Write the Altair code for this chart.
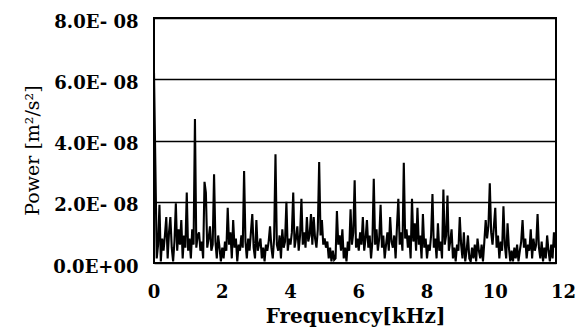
import altair as alt
import pandas as pd

# Power spectrum values in units of 1E-08 m^2/s^2, sampled every 0.04 kHz (rows = 1 kHz each)
STEP_KHZ = 0.04
p_0k = [6.2, 3.2, 0.15, 0.6, 1.9, 0.05, 0.8, 0.4, 0.9, 1.5, 0.15, 1.0, 1.5, 0.5, 0.05, 0.7, 1.95, 0.4, 1.1, 0.6, 1.4, 0.15, 0.9, 0.5, 2.3]
p_1k = [0.4, 0.8, 0.15, 1.1, 0.6, 4.7, 0.5, 0.9, 1.0, 0.4, 0.7, 0.15, 2.65, 2.3, 0.5, 0.8, 1.2, 0.4, 0.6, 2.9, 0.7, 0.15, 0.9, 0.5, 0.05]
p_2k = [0.5, 0.15, 0.7, 0.4, 1.8, 0.6, 1.0, 0.15, 1.4, 0.5, 0.8, 0.05, 0.6, 0.4, 0.9, 0.5, 3.0, 0.7, 0.15, 0.8, 0.4, 1.0, 1.6, 0.5, 0.15]
p_3k = [1.4, 0.4, 0.6, 0.8, 0.15, 0.5, 0.05, 0.6, 0.4, 0.7, 1.2, 0.5, 0.15, 0.8, 3.55, 0.6, 0.4, 0.9, 0.15, 1.1, 0.5, 0.7, 2.0, 0.4, 0.8]
p_4k = [0.6, 1.0, 2.3, 0.5, 0.8, 1.2, 0.4, 0.9, 2.1, 0.6, 1.0, 0.5, 1.5, 0.7, 0.9, 1.6, 0.6, 1.5, 0.8, 0.5, 1.1, 3.3, 0.9, 1.4, 0.6]
p_5k = [0.8, 0.5, 0.7, 0.15, 0.5, 0.05, 0.4, 0.1, 0.15, 1.7, 0.6, 0.9, 0.4, 1.1, 0.15, 0.5, 0.05, 0.7, 0.4, 1.75, 0.6, 1.0, 2.7, 0.5, 0.8]
p_6k = [0.4, 1.0, 0.6, 1.5, 0.4, 0.8, 1.4, 0.5, 0.9, 0.15, 0.7, 2.75, 0.6, 1.1, 0.4, 0.8, 1.9, 0.5, 0.9, 0.15, 0.6, 1.0, 0.4, 1.5, 0.7]
p_7k = [0.5, 0.9, 0.15, 1.2, 2.1, 0.6, 1.0, 0.4, 3.27, 0.8, 1.1, 0.5, 0.9, 0.15, 2.1, 0.7, 1.3, 0.4, 1.8, 0.6, 0.9, 0.15, 1.6, 0.5, 0.8]
p_8k = [0.15, 0.6, 0.4, 0.9, 2.25, 0.5, 0.8, 0.15, 1.3, 0.4, 0.7, 0.15, 2.4, 0.6, 0.9, 2.2, 0.4, 0.7, 1.1, 0.15, 0.5, 0.05, 0.6, 0.4, 1.5]
p_9k = [0.6, 0.15, 1.0, 0.05, 0.4, 0.9, 0.15, 0.05, 0.5, 0.15, 0.6, 0.05, 0.8, 0.4, 0.15, 0.6, 0.05, 0.7, 1.4, 0.8, 1.2, 2.6, 1.0, 0.6, 1.2]
p_10k = [1.8, 0.5, 0.9, 0.15, 0.7, 0.4, 1.85, 0.6, 0.15, 1.3, 0.5, 0.05, 0.4, 0.05, 0.5, 0.15, 0.6, 0.05, 0.4, 0.7, 1.4, 0.5, 0.8, 0.15, 0.6]
p_11k = [0.4, 1.1, 0.15, 0.8, 0.4, 0.6, 1.6, 0.5, 0.15, 0.7, 0.05, 0.5, 0.15, 0.9, 0.4, 0.05, 0.6, 0.15, 1.0, 0.5]

x_ticks = [0, 2, 4, 6, 8, 10, 12]
y_ticks = [0.0, 2e-8, 4e-8, 6e-8, 8e-8]

power_e8 = p_0k + p_1k + p_2k + p_3k + p_4k + p_5k + p_6k + p_7k + p_8k + p_9k + p_10k + p_11k
freq = [round(i * STEP_KHZ, 2) for i in range(len(power_e8))]
df = pd.DataFrame({"freq": freq, "power": [v * 1e-8 for v in power_e8]})
tick_df = pd.DataFrame({"tick": x_ticks, "label": [str(t) for t in x_ticks]})

SERIF = "DejaVu Serif"
W, H = 402, 245

x_scale = alt.Scale(domain=[0, 11.78], nice=False, zero=False)

line = alt.Chart(df).mark_line(color="black", strokeWidth=2.1, clip=True).encode(
    x=alt.X(
        "freq:Q",
        scale=x_scale,
        axis=alt.Axis(
            values=x_ticks, title="Frequency[kHz]", grid=False, ticks=False, tickSize=0,
            domain=False, labels=False,
            titleFont=SERIF, titleFontSize=20, titleFontWeight="bold", titleColor="black",
            titleY=59, titleBaseline="alphabetic",
        ),
    ),
    y=alt.Y(
        "power:Q",
        scale=alt.Scale(domain=[0, 8e-8], nice=False),
        axis=alt.Axis(
            values=y_ticks, title="Power [m²/s²]", grid=True, gridColor="black", gridWidth=1.5,
            gridOpacity=1, ticks=False, tickSize=0, domain=False, labelOverlap=False,
            labelExpr="datum.value == 0 ? '0.0E+00' : format(datum.value * 1e8, '.1f') + 'E- 08'",
            labelFont=SERIF, labelFontSize=18, labelFontWeight="bold", labelColor="black",
            labelPadding=16, labelOffset=4,
            titleFont=SERIF, titleFontSize=19, titleFontWeight="normal", titleColor="black",
            titleX=-122, titleY=132, titleAngle=-90, titleAlign="center", titleBaseline="middle",
        ),
    ),
)

tick_labels = alt.Chart(tick_df).mark_text(
    font=SERIF, fontSize=18, fontWeight="bold", color="black", align="center", baseline="alphabetic"
).encode(
    x=alt.X("tick:Q", scale=x_scale),
    y=alt.value(H + 35),
    text="label:N",
)

chart = alt.layer(line, tick_labels).properties(
    width=W, height=H,
    padding={"left": 154, "top": 18, "right": 21, "bottom": 70},
    autosize=alt.AutoSizeParams(type="none"),
    background="white",
).configure_view(stroke="black", strokeWidth=2)

chart.save("out.html", embed_options={"renderer": "svg", "actions": False})
